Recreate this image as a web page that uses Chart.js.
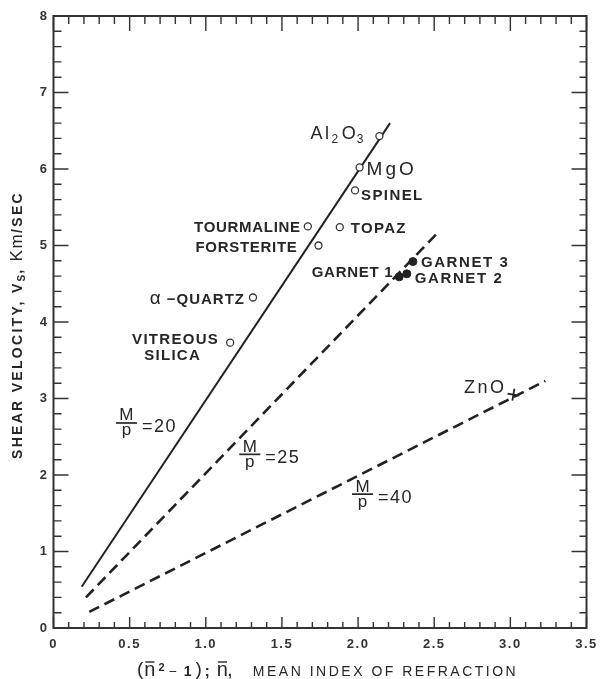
<!DOCTYPE html>
<html>
<head>
<meta charset="utf-8">
<script src="https://cdn.jsdelivr.net/npm/chart.js@4.4.1/dist/chart.umd.min.js"></script>
<style>
  html, body { margin: 0; padding: 0; background: #fff; }
  #wrap { width: 601px; height: 679px; }
</style>
</head>
<body>
<div id="wrap"><canvas id="c" width="601" height="679"></canvas></div>
<script>
// Shear velocity against (n̄² − 1) for oxide and silicate minerals

// Open-circle minerals
const mineralNames = ['Al2O3', 'MgO', 'SPINEL', 'TOPAZ', 'TOURMALINE', 'FORSTERITE', 'QUARTZ', 'SILICA'];
const mineralN2m1 = [2.14, 2.01, 1.98, 1.88, 1.67, 1.74, 1.31, 1.16];
const mineralVs   = [6.43, 6.02, 5.72, 5.24, 5.25, 5.00, 4.32, 3.73];

// Garnets (filled circles)
const garnetNames = ['GARNET 1', 'GARNET 2', 'GARNET 3'];
const garnetN2m1  = [2.27, 2.32, 2.36];
const garnetVs    = [4.59, 4.63, 4.79];

// Zinc oxide
const zincNames = ['ZnO'];
const zincN2m1  = [3.02];
const zincVs    = [3.05];

// Constant mean-atomic-weight lines, M/p
const mpRatios    = [20, 25, 40];
const lineStartX  = [0.185, 0.213, 0.235];
const lineStartY  = [0.54, 0.40, 0.21];
const lineEndX    = [2.21, 2.52, 3.23];
const lineEndY    = [6.60, 5.16, 3.23];

// Axis tick labels
const xTickLabels = ['0', '0.5', '1.0', '1.5', '2.0', '2.5', '3.0', '3.5'];
const yTickLabels = ['0', '1', '2', '3', '4', '5', '6', '7', '8'];

const FONT = '"Liberation Sans", Arial, sans-serif';
const INK = '#262626';

// ---- text helpers -------------------------------------------------------
function setFont(ctx, p) {
  ctx.font = `${p.w || 'bold'} ${p.size || 15}px ${FONT}`;
  ctx.letterSpacing = (p.ls !== undefined ? p.ls : 0.7) + 'px';
}
function runsWidth(ctx, parts) {
  let w = 0;
  for (const p of parts) { setFont(ctx, p); w += ctx.measureText(p.t).width + (p.gap || 0); }
  return w;
}
function drawRuns(ctx, x, y, parts, align) {
  const total = runsWidth(ctx, parts);
  if (align === 'right') x -= total;
  else if (align === 'center') x -= total / 2;
  for (const p of parts) {
    setFont(ctx, p);
    const w = ctx.measureText(p.t).width;
    ctx.fillText(p.t, x, y + (p.dy || 0));
    if (p.over) {
      ctx.save();
      ctx.lineWidth = 1.4;
      ctx.beginPath();
      ctx.moveTo(x + 1, y + p.over);
      ctx.lineTo(x + w - (p.ls || 0) - 1, y + p.over);
      ctx.stroke();
      ctx.restore();
    }
    x += w + (p.gap || 0);
  }
}

// Point labels: offset from the marker in pixels
const pointLabelStyle = {
  'Al2O3':      { dx: -69, dy: 3, align: 'left', parts: [
                  { t: 'Al', size: 18, w: 'normal', ls: 2.5 },
                  { t: '2', size: 12, w: 'normal', dy: 4, gap: 3 },
                  { t: 'O', size: 18, w: 'normal', ls: 1 },
                  { t: '3', size: 12, w: 'normal', dy: 4 } ] },
  'MgO':        { dx: 7, dy: 8, align: 'left', parts: [{ t: 'MgO', size: 19, w: 'normal', ls: 3 }] },
  'SPINEL':     { dx: 6, dy: 10, align: 'left', parts: [{ t: 'SPINEL', ls: 1.4 }] },
  'TOPAZ':      { dx: 11, dy: 6, align: 'left', parts: [{ t: 'TOPAZ', ls: 1.3 }] },
  'TOURMALINE': { dx: -7, dy: 5.5, align: 'right', parts: [{ t: 'TOURMALINE' }] },
  'FORSTERITE': { dx: -21, dy: 6.5, align: 'right', parts: [{ t: 'FORSTERITE' }] },
  'QUARTZ':     { dx: -8, dy: 6, align: 'right', parts: [
                  { t: 'α', size: 19, w: 'normal', ls: 0, gap: 6 },
                  { t: '−QUARTZ', ls: 1 } ] },
  'SILICA':     { dx: -11, dy: 1, align: 'right', parts: [{ t: 'VITREOUS', ls: 1.3 }],
                  extra: { dx: -57.5, dy: 17.7, align: 'center', parts: [{ t: 'SILICA', ls: 1.3 }] } },
  'GARNET 1':   { dx: -6, dy: 0, align: 'right', parts: [{ t: 'GARNET 1' }] },
  'GARNET 2':   { dx: 8, dy: 8.7, align: 'left', parts: [{ t: 'GARNET 2', ls: 1.6 }] },
  'GARNET 3':   { dx: 8, dy: 5, align: 'left', parts: [{ t: 'GARNET 3', ls: 1.6 }] },
  'ZnO':        { dx: -7, dy: -1.5, align: 'right', parts: [{ t: 'ZnO', size: 18, w: 'normal', ls: 2.5 }] }
};

// Where each M/p fraction sits (data units, left end of the fraction bar)
const fractionAnchorX = [0.41, 1.22, 1.96];
const fractionAnchorY = [2.68, 2.27, 1.75];

const annotations = {
  id: 'annotations',
  beforeDraw(chart) {
    chart.ctx.letterSpacing = '1.5px';
  },
  afterDatasetsDraw(chart) {
    const { ctx, scales: { x, y } } = chart;
    ctx.save();
    ctx.fillStyle = INK;
    ctx.strokeStyle = INK;
    ctx.textBaseline = 'alphabetic';

    const labelAt = (name, xv, yv) => {
      const s = pointLabelStyle[name];
      if (!s) return;
      const px = x.getPixelForValue(xv), py = y.getPixelForValue(yv);
      drawRuns(ctx, px + s.dx, py + s.dy, s.parts, s.align);
      if (s.extra) drawRuns(ctx, px + s.extra.dx, py + s.extra.dy, s.extra.parts, s.extra.align);
    };
    mineralNames.forEach((n, i) => labelAt(n, mineralN2m1[i], mineralVs[i]));
    garnetNames.forEach((n, i) => labelAt(n, garnetN2m1[i], garnetVs[i]));
    zincNames.forEach((n, i) => labelAt(n, zincN2m1[i], zincVs[i]));

    // M/p = value fractions
    mpRatios.forEach((r, i) => {
      const x0 = x.getPixelForValue(fractionAnchorX[i]);
      const yb = y.getPixelForValue(fractionAnchorY[i]);
      ctx.textAlign = 'center';
      setFont(ctx, { size: 17, w: 'normal', ls: 0 });
      ctx.fillText('M', x0 + 10.5, yb - 2.5);
      ctx.fillText('p', x0 + 10.5, yb + 12.5);
      ctx.lineWidth = 1.7;
      ctx.beginPath();
      ctx.moveTo(x0, yb);
      ctx.lineTo(x0 + 21, yb);
      ctx.stroke();
      ctx.textAlign = 'left';
      setFont(ctx, { size: 18, w: 'normal', ls: 1.5 });
      ctx.fillText('=' + r, x0 + 26, yb + 9);
    });
    ctx.restore();
  },
  afterDraw(chart) {
    const { ctx, chartArea: a, scales: { x, y } } = chart;
    ctx.save();
    ctx.strokeStyle = '#333';
    // inward tick marks on all four sides
    ctx.lineWidth = 1.4;
    ctx.beginPath();
    for (let k = 0; k <= 35; k++) {
      const px = x.getPixelForValue(k / 10);
      const major = k % 5 === 0;
      ctx.moveTo(px, a.bottom); ctx.lineTo(px, a.bottom - (major ? 11 : 6));
      ctx.moveTo(px, a.top); ctx.lineTo(px, a.top + (major ? 15 : 8));
    }
    for (let k = 0; k <= 40; k++) {
      const py = y.getPixelForValue(k / 5);
      const major = k % 5 === 0;
      ctx.moveTo(a.left, py); ctx.lineTo(a.left + (major ? 15 : 8), py);
      ctx.moveTo(a.right, py); ctx.lineTo(a.right - (major ? 15 : 7), py);
    }
    ctx.stroke();
    // frame
    ctx.lineWidth = 2;
    ctx.strokeRect(a.left, a.top, a.right - a.left, a.bottom - a.top);

    // axis titles
    ctx.fillStyle = INK;
    ctx.strokeStyle = INK;
    ctx.textBaseline = 'alphabetic';
    drawRuns(ctx, 137, 676, [
      { t: '(', size: 19, w: 'normal', ls: 0, gap: 1, dy: -1 },
      { t: 'n', size: 20, w: 'normal', ls: 0, gap: 3, over: -14 },
      { t: '2', size: 11, w: 'bold', ls: 0, dy: -5, gap: 4 },
      { t: '−', size: 14, w: 'normal', ls: 0, gap: 7 },
      { t: '1', size: 14, w: 'bold', ls: 0, gap: 4 },
      { t: ')', size: 19, w: 'normal', ls: 0, dy: -1, gap: 3 },
      { t: ';', size: 15, w: 'bold', ls: 0, gap: 7 },
      { t: 'n', size: 20, w: 'normal', ls: 0, over: -14 },
      { t: ',', size: 14, w: 'bold', ls: 0, gap: 21 },
      { t: 'MEAN INDEX OF REFRACTION', size: 14, w: 'normal', ls: 2.5 }
    ], 'left');

    ctx.save();
    ctx.translate(22, 325);
    ctx.rotate(-Math.PI / 2);
    drawRuns(ctx, 0, 0, [
      { t: 'SHEAR VELOCITY, V', size: 14, w: 'bold', ls: 2.3 },
      { t: 'S', size: 10, w: 'bold', ls: 1, dy: 3 },
      { t: ', ', size: 14, w: 'bold', ls: 2.3 },
      { t: 'Km', size: 17, w: 'normal', ls: 1.5 },
      { t: '/SEC', size: 14, w: 'bold', ls: 2.3 }
    ], 'center');
    ctx.restore();
    ctx.restore();
  }
};

const pts = (xs, ys) => xs.map((v, i) => ({ x: v, y: ys[i] }));
const lineDash = [[], [11, 6], [11, 6]];

const lineSets = mpRatios.map((r, i) => ({
  type: 'line',
  label: 'M/p = ' + r,
  data: [{ x: lineStartX[i], y: lineStartY[i] }, { x: lineEndX[i], y: lineEndY[i] }],
  borderColor: '#222',
  borderWidth: i === 0 ? 2 : 2.6,
  borderDash: lineDash[i],
  pointRadius: 0,
  fill: false
}));

new Chart(document.getElementById('c'), {
  type: 'scatter',
  data: {
    datasets: [
      {
        label: 'ZnO',
        data: pts(zincN2m1, zincVs),
        pointStyle: 'cross',
        pointRadius: 6,
        borderColor: '#222',
        borderWidth: 1.8,
        pointRotation: 10
      },
      {
        label: 'Garnets',
        data: pts(garnetN2m1, garnetVs),
        pointStyle: 'circle',
        pointRadius: 4,
        backgroundColor: '#222',
        borderColor: '#222',
        borderWidth: 1
      },
      {
        label: 'Minerals',
        data: pts(mineralN2m1, mineralVs),
        pointStyle: 'circle',
        pointRadius: 3.5,
        backgroundColor: '#fff',
        borderColor: '#333',
        borderWidth: 1.3
      },
      ...lineSets
    ]
  },
  options: {
    responsive: false,
    devicePixelRatio: 1,
    animation: false,
    events: [],
    layout: { padding: { top: 16, right: 14.5, left: 0, bottom: 0 } },
    plugins: { legend: { display: false }, tooltip: { enabled: false } },
    scales: {
      x: {
        type: 'linear', min: 0, max: 3.5,
        grid: { display: false, drawTicks: false },
        border: { display: false },
        ticks: {
          stepSize: 0.5, autoSkip: false, maxRotation: 0, padding: 9,
          color: '#333', font: { family: FONT, size: 13, weight: 'bold' },
          callback: (v, i) => xTickLabels[i]
        },
        afterFit: s => { s.height = 51; s.paddingLeft = 0; s.paddingRight = 0; }
      },
      y: {
        type: 'linear', min: 0, max: 8,
        grid: { display: false, drawTicks: false },
        border: { display: false },
        ticks: {
          stepSize: 1, autoSkip: false, padding: 5,
          color: '#333', font: { family: FONT, size: 13, weight: 'bold' },
          callback: (v, i) => yTickLabels[i]
        },
        afterFit: s => { s.width = 53.5; s.paddingTop = 0; s.paddingBottom = 0; }
      }
    }
  },
  plugins: [annotations]
});
</script>
</body>
</html>
